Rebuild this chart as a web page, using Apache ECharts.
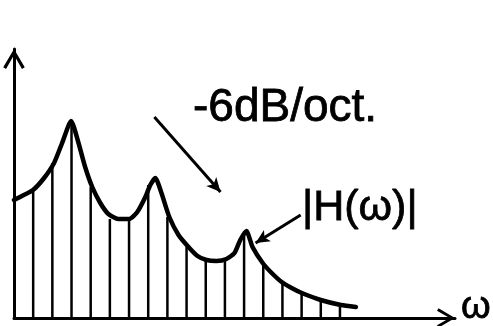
<!DOCTYPE html>
<html>
<head>
<meta charset="utf-8">
<script src="https://cdn.jsdelivr.net/npm/echarts@6/dist/echarts.min.js"></script>
<style>
  html, body { margin: 0; padding: 0; background: #fff; }
  #chart { width: 493px; height: 326px; }
</style>
</head>
<body>
<div id="chart"></div>
<script>
// harmonics (multiples of the fundamental) and their levels
var harmonicOrder = [1, 2, 3, 4, 5, 6, 7, 8, 9, 10, 11, 12, 13, 14, 15, 16, 17];
var harmonicLevel = [12.8, 15.5, 19.6, 13.1, 9.9, 9.8, 13.3, 10.1, 7.1, 5.9, 5.8, 8.4, 5.5, 3.7, 2.6, 1.8, 1.3];

// spectral envelope |H(w)|
var envelopeOmega = [0, 0.31, 0.99, 1.57, 2.09, 2.51, 2.98, 3.35, 3.71, 4.08, 4.5, 4.92, 5.44, 6.01,
    6.43, 6.85, 7.11, 7.37, 7.69, 8.1, 8.58, 9.1, 9.57, 10.04, 10.56, 11.08, 11.5, 11.8, 12.12,
    12.44, 12.97, 13.44, 13.96, 14.48, 15.01, 16.0, 17.05, 17.83];
var envelopeLevel = [11.8, 12.1, 12.8, 14.0, 15.5, 17.5, 19.7, 17.6, 15.1, 13.1, 11.5, 10.4, 9.9, 9.9,
    10.6, 12.1, 13.3, 14.0, 12.5, 10.1, 8.3, 7.1, 6.2, 5.8, 5.7, 5.9, 6.5, 7.8, 8.7,
    7.1, 5.5, 4.5, 3.6, 3.0, 2.5, 1.8, 1.3, 1.1];

// annotation arrows (start, end) in data units
var slopeArrow = [[7.32, 20.1], [10.77, 12.6]];
var labelArrow = [[14.95, 10.3], [12.6, 7.5]];

var chart = echarts.init(document.getElementById('chart'));

var chevron = 'path://M10,0 L20,17 L17.4,18.6 L10,5.6 L2.6,18.6 L0,17 Z';
var font = '"Liberation Sans", Arial, sans-serif';

var harmonicData = harmonicOrder.map(function (k, i) { return [k, harmonicLevel[i]]; });
var envelopeData = envelopeOmega.map(function (w, i) { return [w, envelopeLevel[i]]; });

var option = {
    backgroundColor: '#fff',
    animation: false,
    grid: { left: 14, right: 38, top: 49, bottom: 8 },
    xAxis: {
        type: 'value',
        min: 0,
        max: 23,
        axisLine: {
            show: true,
            symbol: ['none', chevron],
            symbolSize: [20, 18],
            symbolOffset: [0, -9],
            lineStyle: { color: '#000', width: 3 }
        },
        axisTick: { show: false },
        axisLabel: { show: false },
        splitLine: { show: false }
    },
    yAxis: {
        type: 'value',
        min: 0,
        max: 26.9,
        axisLine: {
            show: true,
            symbol: ['none', chevron],
            symbolSize: [22, 20],
            symbolOffset: [0, -10],
            lineStyle: { color: '#000', width: 3 }
        },
        axisTick: { show: false },
        axisLabel: { show: false },
        splitLine: { show: false }
    },
    series: [{
        type: 'bar',
        data: harmonicData,
        barWidth: 2.5,
        itemStyle: { color: '#000' },
        silent: true
    }, {
        type: 'line',
        data: envelopeData,
        showSymbol: false,
        smooth: 0.2,
        lineStyle: { color: '#000', width: 4.5, join: 'round', cap: 'round' },
        silent: true,
        markLine: {
            silent: true,
            symbol: ['none', 'arrow'],
            symbolSize: [10, 14],
            label: { show: false },
            lineStyle: { color: '#000', width: 3, type: 'solid' },
            data: [
                [{ coord: slopeArrow[0] }, { coord: slopeArrow[1] }],
                [{ coord: labelArrow[0] }, { coord: labelArrow[1] }]
            ]
        }
    }],
    graphic: [{
        type: 'text',
        x: 193, y: 108,
        style: { text: '-6dB/oct.', font: '46px ' + font, fill: '#000', stroke: '#000', lineWidth: 0.8, verticalAlign: 'middle' }
    }, {
        type: 'text',
        x: 302, y: 208,
        style: { text: '|H(ω)|', font: '43px ' + font, fill: '#000', stroke: '#000', lineWidth: 0.8, verticalAlign: 'middle' }
    }, {
        type: 'text',
        x: 461, y: 308,
        style: { text: 'ω', font: '38px ' + font, fill: '#000', stroke: '#000', lineWidth: 0.8, verticalAlign: 'middle' }
    }]
};
chart.setOption(option);
</script>
</body>
</html>
